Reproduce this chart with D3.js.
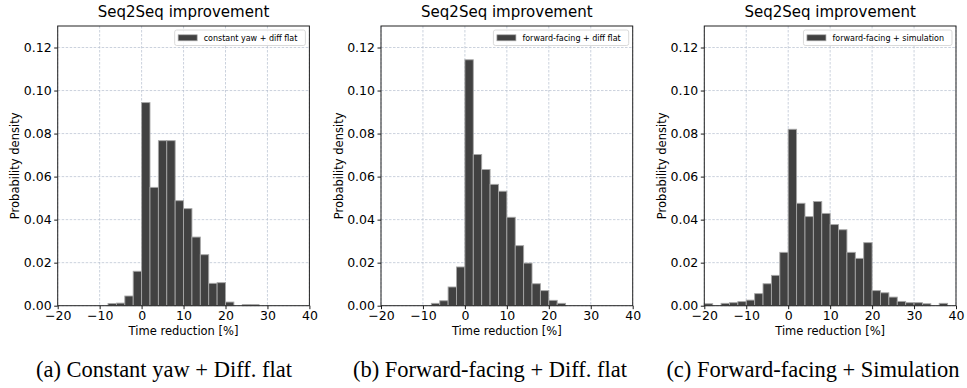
<!DOCTYPE html>
<html>
<head>
<meta charset="utf-8">
<script src="https://cdn.jsdelivr.net/npm/d3@7"></script>
<style>
  body { margin: 0; background: #fff; }
  svg { display: block; }
</style>
</head>
<body>
<div id="chart"></div>
<script>
// chart data (densities per 2% bin)
const binWidth = 2;
const xTicks = [-20, -10, 0, 10, 20, 30, 40];
const yTicks = [0, 0.02, 0.04, 0.06, 0.08, 0.10, 0.12];

const startA = -8;
const densA = [0.0010, 0.0012, 0.0045, 0.0160, 0.0944, 0.0550, 0.0767, 0.0767, 0.0488,
               0.0451, 0.0319, 0.0237, 0.0104, 0.0107, 0.0017, 0, 0.0005, 0.0005];

const startB = -8;
const densB = [0.0011, 0.0023, 0.0087, 0.0180, 0.1143, 0.0703, 0.0633, 0.0564, 0.0532,
               0.0411, 0.0279, 0.0198, 0.0102, 0.0070, 0.0025, 0.0011];

const startC = -20;
const densC = [0.0009, 0, 0.0011, 0.0014, 0.0019, 0.0026, 0.0056, 0.0102, 0.0141, 0.0248,
               0.0820, 0.0476, 0.0414, 0.0484, 0.0429, 0.0377, 0.0353, 0.0248, 0.0220, 0.0293,
               0.0070, 0.0060, 0.0040, 0.0020, 0.0014, 0.0014, 0.0009, 0, 0.0011];

const legendLabels = ["constant yaw + diff flat", "forward-facing + diff flat", "forward-facing + simulation"];
const captions = ["(a) Constant yaw + Diff. flat", "(b) Forward-facing + Diff. flat", "(c) Forward-facing + Simulation"];

// layout
const width = 967, height = 388;
const panelLeft = [57.7, 381, 704.3];
const panelW = 251.7;
const top_ = 26, bottom_ = 305.7;
const captionX = [164, 490, 813];

const svg = d3.select("#chart")
  .append("svg")
    .attr("width", width)
    .attr("height", height);

const font = "DejaVu Sans";

function drawPanel(i, start, dens) {
  const x0 = panelLeft[i];
  const g = svg.append("g").attr("transform", `translate(${x0},${top_})`);
  const h = bottom_ - top_;

  const x = d3.scaleLinear().domain([-20, 40]).range([0, panelW]);
  const y = d3.scaleLinear().domain([0, 0.13]).range([h, 0]);

  // grid
  g.append("g").selectAll("line")
    .data(xTicks)
    .join("line")
      .attr("x1", d => x(d)).attr("x2", d => x(d))
      .attr("y1", 0).attr("y2", h)
      .attr("stroke", "#b4bfcf")
      .attr("stroke-width", 0.7)
      .attr("stroke-dasharray", "2.5,1.5");
  g.append("g").selectAll("line")
    .data(yTicks)
    .join("line")
      .attr("x1", 0).attr("x2", panelW)
      .attr("y1", d => y(d)).attr("y2", d => y(d))
      .attr("stroke", "#b4bfcf")
      .attr("stroke-width", 0.7)
      .attr("stroke-dasharray", "2.5,1.5");

  // bars
  const bins = dens.map((d, k) => ({ x0: start + k * binWidth, v: d })).filter(d => d.v > 0);
  g.append("g").selectAll("rect")
    .data(bins)
    .join("rect")
      .attr("x", d => x(d.x0))
      .attr("y", d => y(d.v))
      .attr("width", d => x(d.x0 + binWidth) - x(d.x0))
      .attr("height", d => h - y(d.v))
      .attr("fill", "#414141")
      .attr("stroke", "#a6a6a6")
      .attr("stroke-width", 0.9);

  // axes
  const xAxis = g.append("g")
    .attr("transform", `translate(0,${h})`)
    .call(d3.axisBottom(x).tickValues(xTicks).tickSize(3.5).tickPadding(2)
      .tickFormat(d => d < 0 ? "\u2212" + Math.abs(d) : d));
  const yAxis = g.append("g")
    .call(d3.axisLeft(y).tickValues(yTicks).tickSize(3.5).tickPadding(2.5)
      .tickFormat(d3.format(".2f")));
  [xAxis, yAxis].forEach(a => {
    a.select(".domain").remove();
    a.selectAll("line").attr("stroke", "#000").attr("stroke-width", 0.9);
    a.selectAll("text")
      .attr("fill", "#000")
      .style("font-family", font)
      .style("font-weight", 400)
      .style("font-size", "12.5px");
  });

  // frame
  g.append("rect")
    .attr("width", panelW).attr("height", h)
    .attr("fill", "none")
    .attr("stroke", "#222")
    .attr("stroke-width", 1);

  // title
  g.append("text")
    .attr("x", panelW / 2).attr("y", -9)
    .attr("text-anchor", "middle")
    .style("font-family", font)
    .style("font-size", "15px")
    .text("Seq2Seq improvement");

  // axis labels
  g.append("text")
    .attr("x", panelW / 2).attr("y", h + 29)
    .attr("text-anchor", "middle")
    .style("font-family", font)
    .style("font-size", "11.5px")
    .text("Time reduction [%]");
  g.append("text")
    .attr("transform", `translate(-38.5,${h / 2}) rotate(-90)`)
    .attr("text-anchor", "middle")
    .style("font-family", font)
    .style("font-size", "11.5px")
    .text("Probability density");

  // legend
  const leg = g.append("g");
  const lt = leg.append("text")
    .attr("x", 0).attr("y", 0)
    .style("font-family", font)
    .style("font-size", "8px")
    .text(legendLabels[i]);
  const tw = lt.node().getComputedTextLength();
  const boxW = tw + 37, boxH = 15.5;
  const bx = panelW - 4 - boxW, by = 4;
  leg.insert("rect", "text")
    .attr("x", bx).attr("y", by)
    .attr("width", boxW).attr("height", boxH)
    .attr("rx", 2)
    .attr("fill", "#fff")
    .attr("fill-opacity", 0.85)
    .attr("stroke", "#d0d0d0")
    .attr("stroke-width", 0.8);
  leg.insert("rect", "text")
    .attr("x", bx + 3.5).attr("y", by + 4.8)
    .attr("width", 19).attr("height", 6)
    .attr("fill", "#414141")
    .attr("stroke", "#a6a6a6")
    .attr("stroke-width", 0.7);
  lt.attr("x", bx + 29).attr("y", by + 10.8);

  // caption
  svg.append("text")
    .attr("x", captionX[i]).attr("y", 377)
    .attr("text-anchor", "middle")
    .style("font-family", "Liberation Serif")
    .style("font-size", "22.5px")
    .text(captions[i]);
}

drawPanel(0, startA, densA);
drawPanel(1, startB, densB);
drawPanel(2, startC, densC);
</script>
</body>
</html>
